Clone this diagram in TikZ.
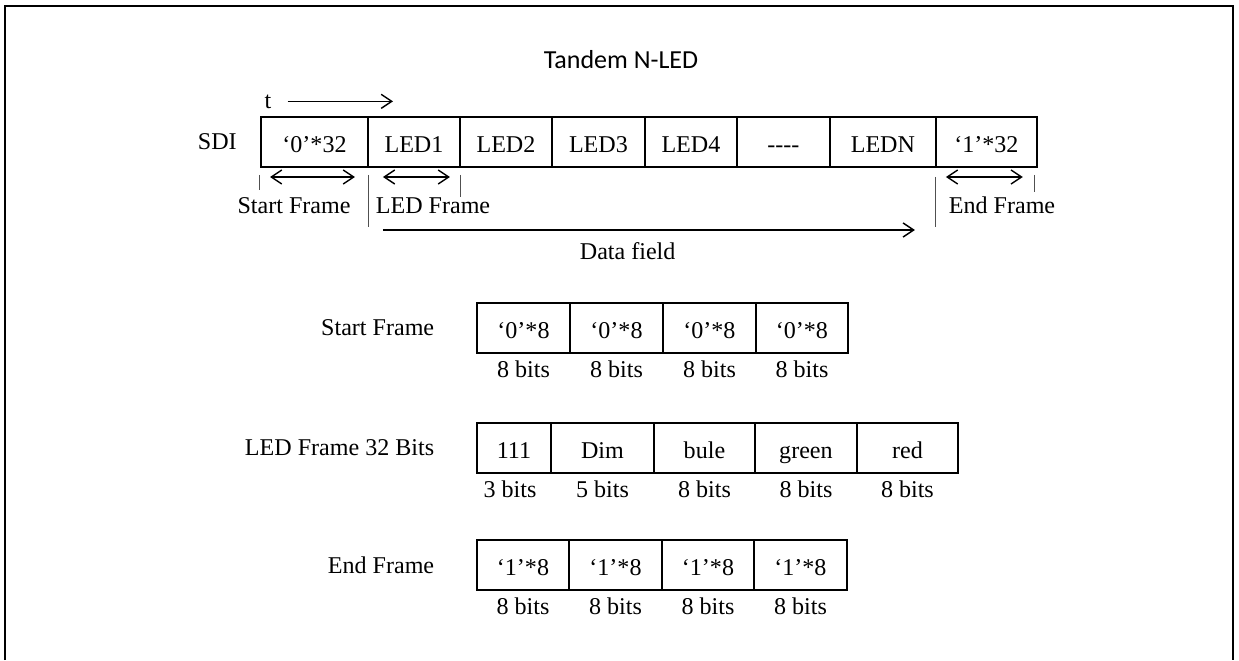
\documentclass[tikz,border=0pt]{standalone}
\usepackage{fontspec}
\setmainfont{Liberation Serif}
\newfontfamily\titlefont{Carlito}
\usetikzlibrary{arrows.meta, positioning, calc}
\definecolor{tickgray}{RGB}{80, 80, 80}
\tikzset{
  fieldbox/.style={
    rectangle, draw, line width=1.1pt, inner sep=0pt, outer sep=0pt,
    minimum height=1cm, text height=11.6pt, text depth=0pt,
    font=\fontsize{13.7}{16}\selectfont
  },
  txt/.style={inner sep=0pt, font=\fontsize{13.7}{16}\selectfont},
  bitlbl/.style={inner sep=0pt, text height=10pt, text depth=0pt,
    font=\fontsize{13.7}{16}\selectfont},
  titletxt/.style={inner sep=0pt, font=\titlefont\fontsize{14.8}{18}\selectfont},
  arrow/.style={-{Straight Barb[length=6pt,width=8pt]}, line width=0.8pt},
  span/.style={{Straight Barb[length=6pt,width=8pt]}-{Straight Barb[length=6pt,width=8pt]}, line width=0.8pt},
  tick/.style={draw=tickgray, line width=0.5pt},
  framestyle/.style={line width=1.3pt}
}
\begin{document}
\begin{tikzpicture}[x=0.02cm, y=-0.02cm]
  \useasboundingbox (0,0) rectangle (1239,660);

  %% ---- outer frame, open at the bottom ----
  \draw[framestyle] (5,660) -- (5,6) -- (1233,6) -- (1233,660);

  \node[titletxt, anchor=base] (title) at (621,68) {Tandem N-LED};

  %% ---- SDI stream ----
  \node[fieldbox, minimum width=2.14cm, anchor=north west] (zero) at (261,117) {‘0’*32};
  \node[fieldbox, minimum width=1.84cm, right=0pt of zero] (led1) {LED1};
  \node[fieldbox, minimum width=1.84cm, right=0pt of led1] (led2) {LED2};
  \node[fieldbox, minimum width=1.86cm, right=0pt of led2] (led3) {LED3};
  \node[fieldbox, minimum width=1.84cm, right=0pt of led3] (led4) {LED4};
  \node[fieldbox, minimum width=1.86cm, right=0pt of led4] (dots) {-{}-{}-{}-};
  \node[fieldbox, minimum width=2.12cm, right=0pt of dots] (ledn) {LEDN};
  \node[fieldbox, minimum width=2.02cm, right=0pt of ledn] (ones) {‘1’*32};
  \node[txt, left=0.48cm of zero] (sdi) {SDI};

  %% ---- time axis ----
  \node[txt, anchor=base] (tlbl) at (268,108) {t};
  \coordinate (tend) at (393,103);
  \draw[arrow] ([xshift=0.32cm]tlbl.east) -- (tlbl.east -| tend);

  %% ---- frame markers under the stream ----
  \draw[tick] ($(zero.south west)+(-2,8)$) -- ++(0,15);
  \draw[span] ($(zero.south west)+(9,10)$) -- ($(zero.south east)+(-13,10)$);
  \draw[tick] ($(zero.south east)+(0,8)$) -- ++(0,52);
  \draw[span] ($(led1.south west)+(15,10)$) -- ($(led1.south east)+(-10,10)$);
  \draw[tick] ($(led1.south east)+(0,8)$) -- ++(0,22);
  \draw[tick] ($(ones.south west)+(0,10)$) -- ++(0,50);
  \draw[span] ($(ones.south west)+(10,10)$) -- ($(ones.south east)+(-14,10)$);
  \draw[tick] ($(ones.south east)+(-2,8)$) -- ++(0,17);

  \node[txt, anchor=base] (sflbl) at (294,213) {Start Frame};
  \node[txt, anchor=base] (lflbl) at (433,213) {LED Frame};
  \node[txt, anchor=base] (eflbl) at (1002,213) {End Frame};

  %% ---- data field ----
  \draw[arrow] ($(led1.south west)+(15,63)$) -- ($(ones.south west)+(-21,63)$)
    node[txt, pos=0.46, below=0.24cm] (datalbl) {Data field};

  %% ---- Start Frame ----
  \node[fieldbox, minimum width=1.86cm, anchor=north west] (sf1) at (477,303) {‘0’*8};
  \node[fieldbox, minimum width=1.86cm, right=0pt of sf1] (sf2) {‘0’*8};
  \node[fieldbox, minimum width=1.86cm, right=0pt of sf2] (sf3) {‘0’*8};
  \node[fieldbox, minimum width=1.84cm, right=0pt of sf3] (sf4) {‘0’*8};
  \node[txt, left=0.85cm of sf1] (sfname) {Start Frame};
  \node[bitlbl, below=3.6pt of sf1] (sfb1) {8 bits};
  \node[bitlbl, below=3.6pt of sf2] (sfb2) {8 bits};
  \node[bitlbl, below=3.6pt of sf3] (sfb3) {8 bits};
  \node[bitlbl, below=3.6pt of sf4] (sfb4) {8 bits};

  %% ---- LED Frame ----
  \node[fieldbox, minimum width=1.48cm, anchor=north west] (lf1) at (477,423) {111};
  \node[fieldbox, minimum width=2.06cm, right=0pt of lf1] (lf2) {Dim};
  \node[fieldbox, minimum width=2.02cm, right=0pt of lf2] (lf3) {bule};
  \node[fieldbox, minimum width=2.04cm, right=0pt of lf3] (lf4) {green};
  \node[fieldbox, minimum width=2.02cm, right=0pt of lf4] (lf5) {red};
  \node[txt, left=0.85cm of lf1] (lfname) {LED Frame 32 Bits};
  \node[bitlbl, below=3.6pt of lf1, xshift=-0.08cm] (lfb1) {3 bits};
  \node[bitlbl, below=3.6pt of lf2] (lfb2) {5 bits};
  \node[bitlbl, below=3.6pt of lf3] (lfb3) {8 bits};
  \node[bitlbl, below=3.6pt of lf4] (lfb4) {8 bits};
  \node[bitlbl, below=3.6pt of lf5] (lfb5) {8 bits};

  %% ---- End Frame ----
  \node[fieldbox, minimum width=1.84cm, anchor=north west] (ef1) at (477,540) {‘1’*8};
  \node[fieldbox, minimum width=1.86cm, right=0pt of ef1] (ef2) {‘1’*8};
  \node[fieldbox, minimum width=1.84cm, right=0pt of ef2] (ef3) {‘1’*8};
  \node[fieldbox, minimum width=1.86cm, right=0pt of ef3] (ef4) {‘1’*8};
  \node[txt, left=0.85cm of ef1] (efname) {End Frame};
  \node[bitlbl, below=3.6pt of ef1] (efb1) {8 bits};
  \node[bitlbl, below=3.6pt of ef2] (efb2) {8 bits};
  \node[bitlbl, below=3.6pt of ef3] (efb3) {8 bits};
  \node[bitlbl, below=3.6pt of ef4] (efb4) {8 bits};

\end{tikzpicture}
\end{document}
